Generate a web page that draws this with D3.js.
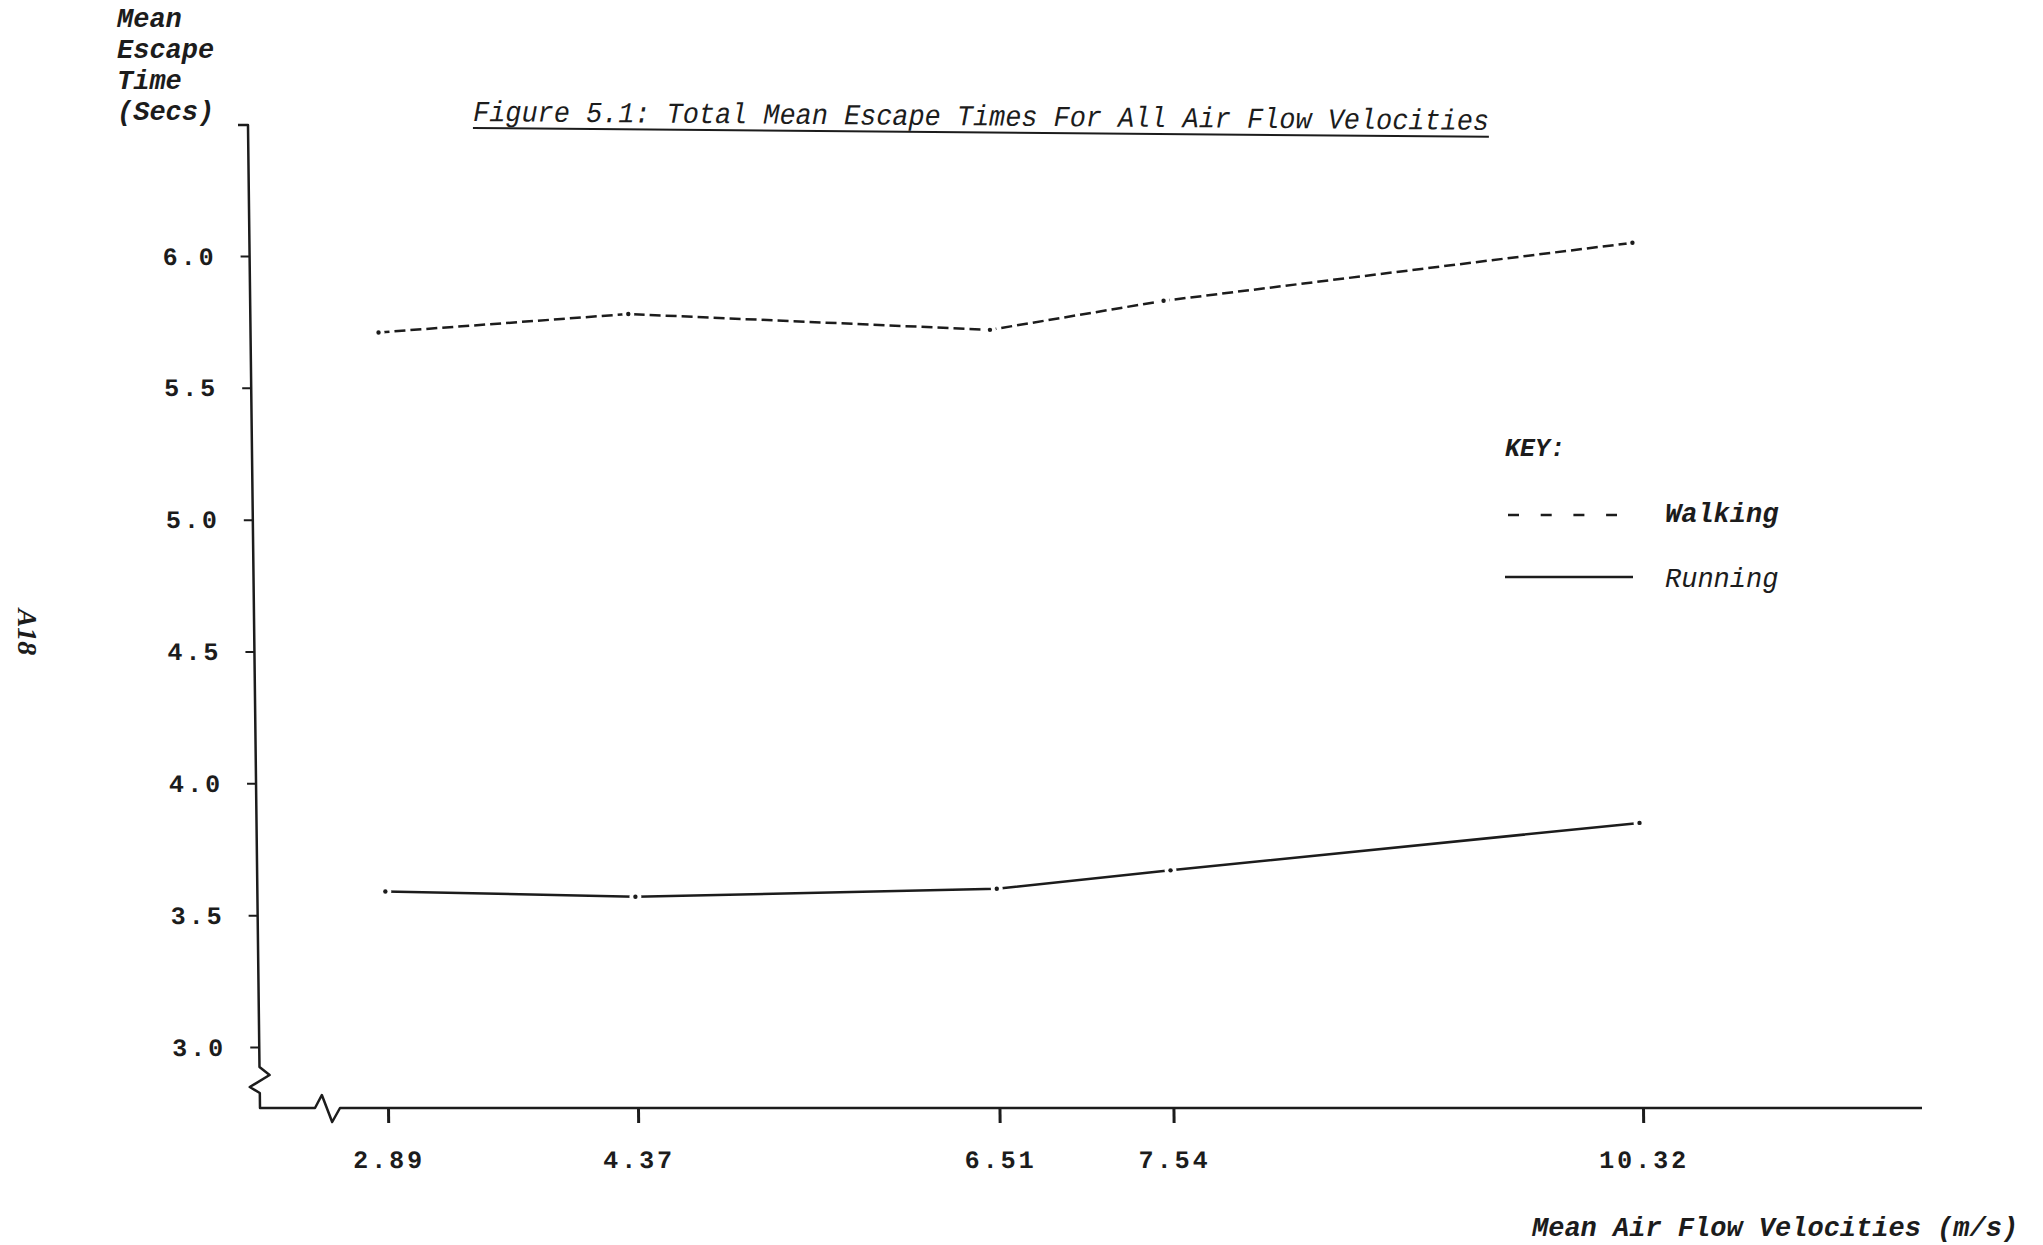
<!DOCTYPE html>
<html lang="en">
<head>
<meta charset="UTF-8" />
<title>Figure 5.1 - Total Mean Escape Times</title>
<script src="https://d3js.org/d3.v7.min.js"></script>
<style>
  body { margin: 0; background: #fff; }
  svg { display: block; background: #fff; }
</style>
</head>
<body>
<svg></svg>
<script>
var width = 2043;
var height = 1245;

var velocities = [2.89, 4.37, 6.51, 7.54, 10.32];
var walking = [5.71, 5.78, 5.72, 5.83, 6.05];
var running = [3.59, 3.57, 3.60, 3.67, 3.85];
var yTicks = [3.0, 3.5, 4.0, 4.5, 5.0, 5.5, 6.0];
var xTickLabels = ["2.89", "4.37", "6.51", "7.54", "10.32"];
var yLabel = ["Mean", "Escape", "Time", "(Secs)"];
var keyLabels = ["Walking", "Running"];

var ink = "#1c1c1c";
var axisX = 260;
var axisY = 1108;
var axisTop = 125;
var axisRight = 1922;

var svg = d3.select("svg").attr("width", width).attr("height", height);

var x = d3.scaleLinear().domain([2.89, 10.32]).range([388, 1643]);
var y = d3.scaleLinear().domain([3.0, 6.0]).range([1047, 256]);

// the scan leans a little, so the plot gets a small skew about the x axis
var plot = svg
  .append("g")
  .attr("transform", `translate(0, ${axisY}) skewX(0.7) translate(0, ${-axisY})`);

plot
  .append("g")
  .attr("transform", `translate(${axisX}, 0)`)
  .call(
    d3.axisLeft(y)
      .tickValues(yTicks)
      .tickFormat(d3.format(".1f"))
      .tickSize(9)
      .tickPadding(24)
  )
  .call((g) => g.select(".domain").remove())
  .call((g) => g.selectAll("line").attr("stroke", ink).attr("stroke-width", 2))
  .call((g) =>
    g.selectAll("text")
      .attr("font-family", "Liberation Mono")
      .attr("font-weight", "bold")
      .attr("font-size", 25)
      .attr("letter-spacing", 3)
      .attr("fill", ink)
  );

plot
  .append("g")
  .attr("transform", `translate(0, ${axisY})`)
  .call(
    d3.axisBottom(x)
      .tickValues(velocities)
      .tickFormat((d, i) => xTickLabels[i])
      .tickSize(15)
      .tickPadding(27)
  )
  .call((g) => g.select(".domain").remove())
  .call((g) => g.selectAll("line").attr("stroke", ink).attr("stroke-width", 3))
  .call((g) =>
    g.selectAll("text")
      .attr("font-family", "Liberation Mono")
      .attr("font-weight", "bold")
      .attr("font-size", 25)
      .attr("letter-spacing", 3)
      .attr("fill", ink)
  );

// axis lines with the zig-zag breaks
var axisPoints = [
  [axisX - 10, axisTop], [axisX, axisTop], [axisX, 1067],
  [axisX + 10, 1075], [axisX - 10, 1087], [axisX, 1093], [axisX, axisY],
  [315, axisY], [322, axisY - 13], [332, axisY + 14], [340, axisY], [axisRight, axisY]
];
plot
  .append("path")
  .attr("d", d3.line()(axisPoints))
  .attr("fill", "none")
  .attr("stroke", ink)
  .attr("stroke-width", 2.5)
  .attr("stroke-linejoin", "round");

var line = d3.line()
  .x((d) => x(d[0]))
  .y((d) => y(d[1]));

var series = [
  { name: "Walking", values: d3.zip(velocities, walking), dash: "11,5" },
  { name: "Running", values: d3.zip(velocities, running), dash: null }
];

plot
  .append("g")
  .selectAll("path")
  .data(series)
  .join("path")
  .attr("d", (d) => line(d.values))
  .attr("fill", "none")
  .attr("stroke", ink)
  .attr("stroke-width", 2.5)
  .attr("stroke-dasharray", (d) => d.dash);

// small gap and dot at each plotted point, like the plotter left them
var pts = series.flatMap((s) => s.values);
plot
  .append("g")
  .selectAll("circle")
  .data(pts)
  .join("circle")
  .attr("cx", (d) => x(d[0]))
  .attr("cy", (d) => y(d[1]))
  .attr("r", 6)
  .attr("fill", "#fff");
plot
  .append("g")
  .selectAll("circle")
  .data(pts)
  .join("circle")
  .attr("cx", (d) => x(d[0]))
  .attr("cy", (d) => y(d[1]))
  .attr("r", 2.2)
  .attr("fill", ink);

// y axis title, stacked
svg
  .append("g")
  .selectAll("text")
  .data(yLabel)
  .join("text")
  .attr("x", 117)
  .attr("y", (d, i) => 27 + i * 31)
  .attr("font-family", "Liberation Mono")
  .attr("font-weight", "bold")
  .attr("font-style", "italic")
  .attr("font-size", 27)
  .attr("fill", ink)
  .text((d) => d);

svg
  .append("text")
  .attr("x", 1532)
  .attr("y", 1236)
  .attr("font-family", "Liberation Mono")
  .attr("font-style", "italic")
  .attr("font-weight", "bold")
  .attr("font-size", 27)
  .attr("fill", ink)
  .text("Mean Air Flow Velocities (m/s)");

// title, underlined and a touch tilted
var title = svg
  .append("g")
  .attr("transform", "rotate(0.5, 473, 121)");
title
  .append("text")
  .attr("x", 473)
  .attr("y", 121)
  .attr("font-family", "Liberation Mono")
  .attr("font-style", "italic")
  .attr("font-size", 29)
  .attr("textLength", 1016)
  .attr("lengthAdjust", "spacingAndGlyphs")
  .attr("fill", ink)
  .text("Figure 5.1: Total Mean Escape Times For All Air Flow Velocities");
title
  .append("line")
  .attr("x1", 473)
  .attr("x2", 1489)
  .attr("y1", 128)
  .attr("y2", 128)
  .attr("stroke", ink)
  .attr("stroke-width", 2);

// key
var key = svg.append("g").attr("transform", "translate(1505, 0)");
key
  .append("text")
  .attr("x", 0)
  .attr("y", 456)
  .attr("font-family", "Liberation Mono")
  .attr("font-style", "italic")
  .attr("font-weight", "bold")
  .attr("font-size", 25)
  .attr("fill", ink)
  .text("KEY:");

key
  .selectAll(".swatch")
  .data(series)
  .join("line")
  .attr("class", "swatch")
  .attr("x1", (d, i) => (i === 0 ? 3 : 0))
  .attr("x2", (d, i) => (i === 0 ? 112 : 128))
  .attr("y1", (d, i) => 515 + i * 62)
  .attr("y2", (d, i) => 515 + i * 62)
  .attr("stroke", ink)
  .attr("stroke-width", 2.5)
  .attr("stroke-dasharray", (d, i) => (i === 0 ? "11,21.7" : null));

key
  .selectAll(".keylabel")
  .data(keyLabels)
  .join("text")
  .attr("class", "keylabel")
  .attr("x", 160)
  .attr("y", (d, i) => 522 + i * 65)
  .attr("font-family", "Liberation Mono")
  .attr("font-style", "italic")
  .attr("font-weight", (d, i) => (i === 0 ? "bold" : "normal"))
  .attr("font-size", 27)
  .attr("fill", ink)
  .text((d) => d);

// page number down the left margin
svg
  .append("text")
  .attr("transform", "translate(18, 632) rotate(90)")
  .attr("text-anchor", "middle")
  .attr("font-family", "Liberation Serif")
  .attr("font-style", "italic")
  .attr("font-weight", "bold")
  .attr("font-size", 28)
  .attr("fill", ink)
  .text("A18");
</script>
</body>
</html>
